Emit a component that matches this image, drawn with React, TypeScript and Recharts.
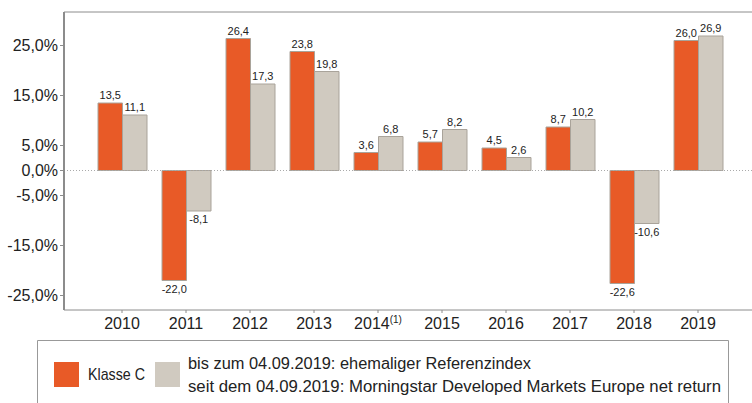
import React from 'react';
import { BarChart, Bar, XAxis, YAxis, ReferenceLine, LabelList, Legend } from 'recharts';

const years = ['2010', '2011', '2012', '2013', '2014', '2015', '2016', '2017', '2018', '2019'];
const klasseC = [13.5, -22.0, 26.4, 23.8, 3.6, 5.7, 4.5, 8.7, -22.6, 26.0];
const referenz = [11.1, -8.1, 17.3, 19.8, 6.8, 8.2, 2.6, 10.2, -10.6, 26.9];
const yTicks = [25, 15, 5, 0, -5, -15, -25];
const yDomain = [-27.9, 31.7];
const footnoteYear = '2014';
const footnoteMark = '(1)';
const seriesName1 = 'Klasse C';
const seriesName2a = 'bis zum 04.09.2019: ehemaliger Referenzindex';
const seriesName2b = 'seit dem 04.09.2019: Morningstar Developed Markets Europe net return';

const ORANGE = '#E85A27';
const GREY = '#D0CAC0';
const FRAME = '#8c8c8c';
const FONT = '"Liberation Sans", Arial, sans-serif';

const data = years.map((y, i) => ({ year: y, klasseC: klasseC[i], referenz: referenz[i] }));

const fmt = (v: number) => v.toFixed(1).replace('.', ',');

const renderLabel = (props: any) => {
  const { x, y, width, height, value } = props;
  const nx = Number(x), ny = Number(y), nw = Number(width), nh = Number(height);
  const top = Math.min(ny, ny + nh);
  const bottom = Math.max(ny, ny + nh);
  const v = Number(value);
  const ty = v >= 0 ? top - 4 : bottom + 12;
  return (
    <text x={nx + nw / 2} y={ty} textAnchor="middle" fontSize={11} fontFamily={FONT} fill="#222">
      {fmt(v)}
    </text>
  );
};

const XTick = (props: any) => {
  const { x, y, payload } = props;
  return (
    <text x={x} y={y + 14} textAnchor="middle" fontSize={16} fontFamily={FONT} fill="#222">
      {payload.value}
      {payload.value === footnoteYear && (
        <tspan fontSize={10} dy={-6}>{footnoteMark}</tspan>
      )}
    </text>
  );
};

const LegendContent = () => (
  <svg width={692} height={63} style={{ display: 'block' }}>
    <path d="M0.5,63 L0.5,0.5 L691.5,0.5 L691.5,63" fill="none" stroke="#999" strokeWidth={1} />
    <rect x={17} y={22} width={25} height={25} fill={ORANGE} />
    <text x={51} y={40} fontSize={17} fontFamily={FONT} fill="#222" textLength={57} lengthAdjust="spacingAndGlyphs">
      {seriesName1}
    </text>
    <rect x={118} y={22} width={25} height={25} fill={GREY} />
    <text x={151} y={29} fontSize={16} fontFamily={FONT} fill="#222" textLength={343} lengthAdjust="spacingAndGlyphs">
      {seriesName2a}
    </text>
    <text x={151} y={52} fontSize={16} fontFamily={FONT} fill="#222" textLength={533} lengthAdjust="spacingAndGlyphs">
      {seriesName2b}
    </text>
  </svg>
);

export default function App() {
  return (
    <div style={{ position: 'absolute', left: 0, top: 0, width: 752, height: 403, background: '#fff', overflow: 'hidden' }}>
      <BarChart
        width={752}
        height={403}
        data={data}
        margin={{ top: 12, right: 0, bottom: 63, left: 0 }}
        barGap={0}
        barSize={24.5}
      >
        <XAxis
          dataKey="year"
          height={30}
          padding={{ left: 26, right: 22 }}
          axisLine={{ stroke: FRAME, strokeWidth: 1 }}
          tickLine={{ stroke: FRAME }}
          tickSize={3}
          tickMargin={2}
          tick={<XTick />}
          interval={0}
        />
        <YAxis
          width={64}
          domain={yDomain}
          ticks={yTicks}
          interval={0}
          allowDataOverflow
          axisLine={{ stroke: FRAME, strokeWidth: 2 }}
          tickLine={{ stroke: FRAME }}
          tickSize={4}
          tickMargin={2}
          tick={{ fontSize: 16, fill: '#222', fontFamily: FONT }}
          tickFormatter={(v: number) => `${fmt(v)}%`}
        />
        <ReferenceLine y={yDomain[1]} stroke={FRAME} strokeWidth={1} />
        <ReferenceLine y={0} stroke="#aaa" strokeDasharray="1 2" />
        <Bar dataKey="klasseC" fill={ORANGE} stroke="#a9a39a" strokeWidth={1} isAnimationActive={false}>
          <LabelList dataKey="klasseC" content={renderLabel} />
        </Bar>
        <Bar dataKey="referenz" fill={GREY} stroke="#a9a39a" strokeWidth={1} isAnimationActive={false}>
          <LabelList dataKey="referenz" content={renderLabel} />
        </Bar>
        <Legend
          layout="horizontal"
          verticalAlign="middle"
          align="center"
          content={<LegendContent />}
          wrapperStyle={{ left: 37, top: 340, width: 692, height: 63 }}
        />
      </BarChart>
    </div>
  );
}
